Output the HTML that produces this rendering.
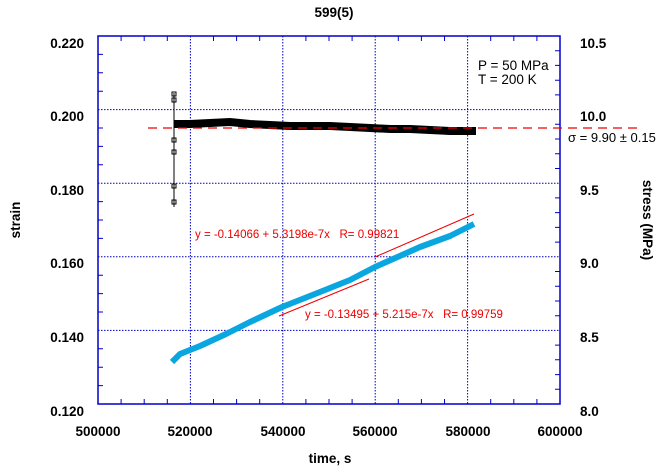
<!DOCTYPE html>
<html><head><style>body{margin:0;background:#fff}svg{display:block}</style></head><body>
<svg width="668" height="472" xmlns="http://www.w3.org/2000/svg" font-family="Liberation Sans, sans-serif">
<rect width="668" height="472" fill="#fff"/>
<g stroke="#0000cc" stroke-width="1" stroke-dasharray="1.5,1.5">
<line x1="190.4" y1="36" x2="190.4" y2="404"/><line x1="282.8" y1="36" x2="282.8" y2="404"/>
<line x1="375.2" y1="36" x2="375.2" y2="404"/><line x1="467.6" y1="36" x2="467.6" y2="404"/>
<line x1="98" y1="109.6" x2="560" y2="109.6"/><line x1="98" y1="183.2" x2="560" y2="183.2"/>
<line x1="98" y1="256.8" x2="560" y2="256.8"/><line x1="98" y1="330.4" x2="560" y2="330.4"/>
</g>
<rect x="98" y="36" width="462" height="368" fill="none" stroke="#0000cc" stroke-width="1.5"/>
<path stroke="#0000cc" stroke-width="1" fill="none" d="
M121.1 404v-5M144.2 404v-5M167.3 404v-5M213.5 404v-5M236.6 404v-5M259.7 404v-5M305.9 404v-5M329 404v-5M352.1 404v-5M398.3 404v-5M421.4 404v-5M444.5 404v-5M490.7 404v-5M513.8 404v-5M536.9 404v-5
M121.1 36v5M144.2 36v5M167.3 36v5M213.5 36v5M236.6 36v5M259.7 36v5M305.9 36v5M329 36v5M352.1 36v5M398.3 36v5M421.4 36v5M444.5 36v5M490.7 36v5M513.8 36v5M536.9 36v5
M98 54.4h5M98 72.8h5M98 91.2h5M98 128h5M98 146.4h5M98 164.8h5M98 201.6h5M98 220h5M98 238.4h5M98 275.2h5M98 293.6h5M98 312h5M98 348.8h5M98 367.2h5M98 385.6h5
M560 50.7h-5M560 65.4h-5M560 80.2h-5M560 94.9h-5M560 124.3h-5M560 139h-5M560 153.8h-5M560 168.5h-5M560 197.9h-5M560 212.6h-5M560 227.4h-5M560 242.1h-5M560 271.5h-5M560 286.2h-5M560 301h-5M560 315.7h-5M560 345.1h-5M560 359.8h-5M560 374.6h-5M560 389.3h-5"/>
<line x1="174" y1="93" x2="174" y2="207" stroke="#000"/>
<g fill="none" stroke="#000" stroke-width="1"><rect x="172" y="92" width="4" height="4"/><rect x="172" y="98" width="4" height="4"/><rect x="172" y="184" width="4" height="4"/><rect x="172" y="200" width="4" height="4"/><rect x="172" y="150" width="4" height="4"/><rect x="172" y="138" width="4" height="4"/></g>
<path d="M174 124 L190 124 L210 123 L230 122 L250 124 L270 125 L290 126 L310 126 L330 126 L350 127 L370 128 L390 129 L410 129 L430 130 L450 131 L476 131" stroke="#000" stroke-width="8" fill="none"/>
<line x1="148" y1="128" x2="640" y2="128" stroke="#e00" stroke-width="1.2" stroke-dasharray="9,6"/>
<path d="M172 362 L180 354 L200 346 L226 334 L250 322 L282 307 L320 292 L350 280 L375 267 L420 247 L450 236 L474 224" stroke="#0aa6e0" stroke-width="6" fill="none" stroke-linejoin="round"/>
<line x1="375" y1="257" x2="474" y2="214" stroke="#e00"/>
<line x1="279" y1="316" x2="369" y2="279" stroke="#e00"/>
<g fill="#e00" font-size="11.5" xml:space="preserve"><text x="195" y="238" style="white-space:pre">y = -0.14066 + 5.3198e-7x   R= 0.99821</text><text x="305" y="318" style="white-space:pre">y = -0.13495 + 5.215e-7x   R= 0.99759</text></g>
<g font-size="13.5" fill="#000"><text x="478" y="70">P = 50 MPa</text><text x="478" y="84">T = 200 K</text><text x="568" y="142" font-size="13">σ = 9.90 ± 0.15</text></g>
<g font-size="13.5" font-weight="bold" fill="#000">
<text x="334" y="17" text-anchor="middle">599(5)</text>
<g text-anchor="end"><text x="84" y="48">0.220</text><text x="84" y="121">0.200</text><text x="84" y="195">0.180</text><text x="84" y="268">0.160</text><text x="84" y="342">0.140</text><text x="84" y="416">0.120</text></g>
<g><text x="580" y="48">10.5</text><text x="580" y="121">10.0</text><text x="580" y="195">9.5</text><text x="580" y="268">9.0</text><text x="580" y="342">8.5</text><text x="580" y="416">8.0</text></g>
<g text-anchor="middle"><text x="98" y="436">500000</text><text x="190" y="436">520000</text><text x="283" y="436">540000</text><text x="375" y="436">560000</text><text x="468" y="436">580000</text><text x="560" y="436">600000</text></g>
<text x="330" y="463" text-anchor="middle">time, s</text>
<text transform="translate(20,220) rotate(-90)" text-anchor="middle">strain</text>
<text transform="translate(643,220) rotate(90)" text-anchor="middle">stress (MPa)</text>
</g>
</svg>
</body></html>
